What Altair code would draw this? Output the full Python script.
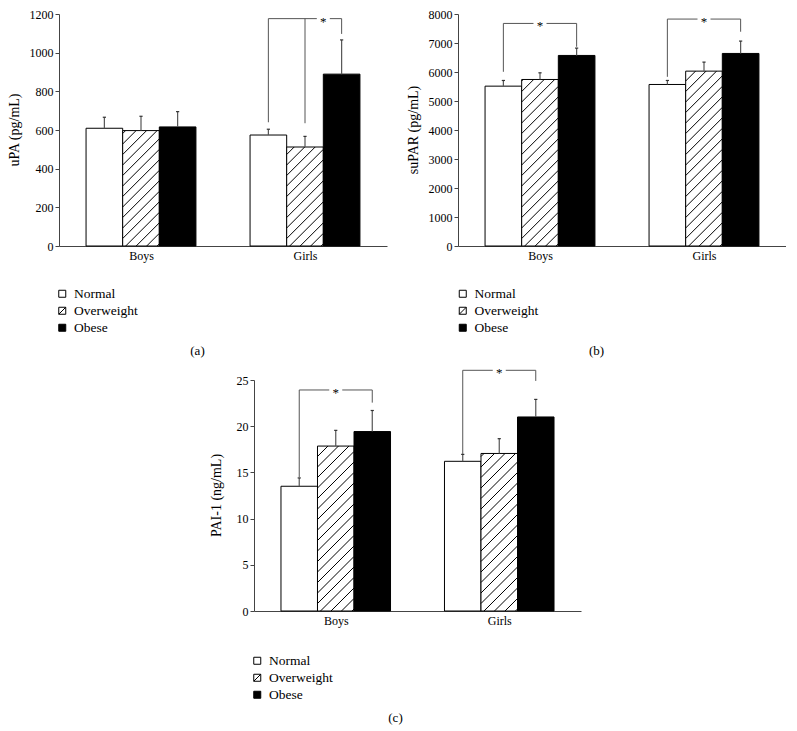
import altair as alt
import numpy as np
import pandas as pd

# ---------------- data ----------------
GROUPS = ["Boys", "Girls"]
CATEGORIES = ["Normal", "Overweight", "Obese"]

# (a) uPA (pg/mL): mean and top of the error bar
UPA_BOYS = [609, 597, 616]
UPA_GIRLS = [574, 512, 889]
UPA_BOYS_ERR = [666, 671, 695]
UPA_GIRLS_ERR = [604, 567, 1066]

# (b) suPAR (pg/mL)
SUPAR_BOYS = [5512, 5742, 6571]
SUPAR_GIRLS = [5570, 6030, 6640]
SUPAR_BOYS_ERR = [5708, 5972, 6824]
SUPAR_GIRLS_ERR = [5708, 6341, 7066]

# (c) PAI-1 (ng/mL)
PAI_BOYS = [13.5, 17.85, 19.42]
PAI_GIRLS = [16.2, 17.05, 21.0]
PAI_BOYS_ERR = [14.4, 19.55, 21.7]
PAI_GIRLS_ERR = [16.95, 18.65, 22.9]

# significance brackets: group, height of bracket, legs (category, lower end), star between
UPA_BRACKETS = [
    {"group": "Girls", "top": 1176,
     "legs": [("Normal", 640), ("Overweight", 635), ("Obese", 1097)],
     "star": ("Overweight", "Obese")},
]
SUPAR_BRACKETS = [
    {"group": "Boys", "top": 7675, "legs": [("Normal", 6007), ("Obese", 6870)],
     "star": ("Normal", "Obese")},
    {"group": "Girls", "top": 7825, "legs": [("Normal", 5834), ("Obese", 7388)],
     "star": ("Normal", "Obese")},
]
PAI_BRACKETS = [
    {"group": "Boys", "top": 23.92, "legs": [("Normal", 14.46), ("Obese", 22.55)],
     "star": ("Normal", "Obese")},
    {"group": "Girls", "top": 26.05, "legs": [("Normal", 16.98), ("Obese", 24.9)],
     "star": ("Normal", "Obese")},
]

# ---------------- styles ----------------
SERIF = "Liberation Serif"
CAT_FILL = ["white", "white", "black"]
SQUARE = "M-1,-1H1V1H-1Z"
CAT_SHAPE = [SQUARE, SQUARE + " M-1,1L1,-1", SQUARE]
GROUP_FRAC = 0.67      # share of each group band covered by its three bars
HATCH_STEP = 10.5      # px between hatch lines
CAP_PX = 1.6
STAR_GAP_PX = 6.5
LINE_GRAY = "#555555"


def panel(means_b, means_g, err_b, err_g, brackets, ymax, ystep, ytitle,
          label, width, height, legend_x, legend_y, title_x):
    px_x = width / 2.0
    px_y = height / ymax
    bw = GROUP_FRAC / 3.0

    def center(gi, cat):
        return gi + 0.5 + (CATEGORIES.index(cat) - 1) * bw

    rows = []
    for gi, (g, means, errs) in enumerate(
            [(GROUPS[0], means_b, err_b), (GROUPS[1], means_g, err_g)]):
        for ci, c in enumerate(CATEGORIES):
            xc = center(gi, c)
            rows.append(dict(group=g, cat=c, value=means[ci], err=errs[ci],
                             x0=xc - bw / 2, x1=xc + bw / 2, xc=xc,
                             cap0=xc - CAP_PX / px_x, cap1=xc + CAP_PX / px_x,
                             fill=CAT_FILL[ci]))
    bars = pd.DataFrame(rows)

    # diagonal hatch lines of the "Overweight" bars
    hatch = []
    for r in rows:
        if r["cat"] != "Overweight":
            continue
        w = (r["x1"] - r["x0"]) * px_x
        h = r["value"] * px_y
        c = np.floor(-h / HATCH_STEP) * HATCH_STEP + 3
        while c < w:
            xs, xe = max(0.0, c), min(w, h + c)
            if xe > xs:
                hatch.append(dict(hx=r["x0"] + xs / px_x, hx2=r["x0"] + xe / px_x,
                                  hy=(xs - c) / px_y, hy2=(xe - c) / px_y))
            c += HATCH_STEP
    hatch = pd.DataFrame(hatch)

    segs, stars = [], []
    for br in brackets:
        gi = GROUPS.index(br["group"])
        xs_ = [center(gi, c) for c, _ in br["legs"]]
        for (c, bottom), x in zip(br["legs"], xs_):
            segs.append(dict(sx=x, sx2=x, sy=bottom, sy2=br["top"]))
        s0, s1 = br["star"]
        sx = (center(gi, s0) + center(gi, s1)) / 2
        gap = STAR_GAP_PX / px_x
        segs.append(dict(sx=min(xs_), sx2=sx - gap, sy=br["top"], sy2=br["top"]))
        segs.append(dict(sx=sx + gap, sx2=max(xs_), sy=br["top"], sy2=br["top"]))
        stars.append(dict(tx=sx, ty=br["top"], t="*"))
    segs = pd.DataFrame(segs)
    stars = pd.DataFrame(stars)

    xscale = alt.Scale(domain=[0, 2], nice=False, zero=False)
    yscale = alt.Scale(domain=[0, ymax], nice=False)
    label_expr = "['%s','%s'][floor(datum.value)]" % (GROUPS[0], GROUPS[1])
    common = dict(labelFont=SERIF, labelFontSize=12, labelColor="black",
                  domainColor="#444444", tickColor="#444444", grid=False, title=None)
    xaxis = alt.Axis(values=[0.5, 1.5], labelExpr=label_expr, ticks=False,
                     labelPadding=4, labelFlush=False, **common)
    yaxis = alt.Axis(values=[float(v) for v in np.arange(0, ymax + ystep / 2, ystep)],
                     format="d", tickSize=4, labelPadding=2, **common)

    def X(f):
        return alt.X(f, type="quantitative", scale=xscale, axis=xaxis)

    def Y(f):
        return alt.Y(f, type="quantitative", scale=yscale, axis=yaxis)

    base = alt.Chart(bars)
    bar_layer = base.mark_bar(stroke="black", strokeWidth=1).encode(
        x=X("x0"), x2="x1", y=Y("value"), y2=alt.datum(0),
        fill=alt.Fill("fill:N", scale=None),
    )
    hatch_layer = alt.Chart(hatch).mark_rule(color="black", strokeWidth=1).encode(
        x=X("hx"), x2="hx2", y=Y("hy"), y2="hy2")
    err_layer = base.mark_rule(color=LINE_GRAY, strokeWidth=1.2).encode(
        x=X("xc"), y=Y("value"), y2="err")
    cap_layer = base.mark_rule(color="#333333", strokeWidth=1.2).encode(
        x=X("cap0"), x2="cap1", y=Y("err"))
    seg_layer = alt.Chart(segs).mark_rule(color=LINE_GRAY, strokeWidth=1).encode(
        x=X("sx"), x2="sx2", y=Y("sy"), y2="sy2")
    star_layer = alt.Chart(stars).mark_text(
        font=SERIF, fontSize=13, color="black", baseline="middle", dy=3).encode(
        x=X("tx"), y=Y("ty"), text="t:N")
    # y-axis title, drawn as rotated text beside the axis
    ytitle_layer = alt.Chart(pd.DataFrame({"t": [ytitle]})).mark_text(
        font=SERIF, fontSize=14, color="black", angle=270, align="center",
        baseline="bottom").encode(
        x=alt.value(title_x), y=alt.value(height / 2), text="t:N")

    leg = dict(title=None, orient="none", legendX=legend_x, legendY=legend_y)
    legend_layer = base.transform_filter("false").mark_point(
        filled=True, stroke="black", strokeWidth=1, size=49, opacity=1).encode(
        x=X("xc"), y=Y("value"),
        fill=alt.Fill("cat:N", scale=alt.Scale(domain=CATEGORIES, range=CAT_FILL),
                      legend=alt.Legend(**leg)),
        shape=alt.Shape("cat:N", scale=alt.Scale(domain=CATEGORIES, range=CAT_SHAPE),
                        legend=alt.Legend(**leg)),
    )

    return alt.layer(bar_layer, hatch_layer, err_layer, cap_layer, seg_layer,
                     star_layer, ytitle_layer, legend_layer).properties(
        width=width, height=height,
        title=alt.TitleParams(label, orient="bottom", anchor="middle", frame="bounds",
                              font=SERIF, fontSize=13, fontWeight="normal",
                              color="black", offset=10),
    )


pa = panel(UPA_BOYS, UPA_GIRLS, UPA_BOYS_ERR, UPA_GIRLS_ERR, UPA_BRACKETS,
           1200, 200, "uPA (pg/mL)", "(a)", 328, 232, -3.5, 273, -37)
pb = panel(SUPAR_BOYS, SUPAR_GIRLS, SUPAR_BOYS_ERR, SUPAR_GIRLS_ERR, SUPAR_BRACKETS,
           8000, 1000, "suPAR (pg/mL)", "(b)", 328, 232, -2, 273, -37)
pc = panel(PAI_BOYS, PAI_GIRLS, PAI_BOYS_ERR, PAI_GIRLS_ERR, PAI_BRACKETS,
           25, 5, "PAI-1 (ng/mL)", "(c)", 327, 231, -3.5, 274, -30)

spacer = alt.Chart(pd.DataFrame({"v": [0]})).transform_filter("false").mark_point().encode(
    x=alt.X("v:Q", axis=None), y=alt.Y("v:Q", axis=None)
).properties(width=151, height=231)

RES = dict(x="independent", y="independent", fill="independent", shape="independent")
row1 = alt.hconcat(pa, pb, spacing=20).resolve_scale(**RES).resolve_legend(
    fill="independent", shape="independent")
row2 = alt.hconcat(spacer, pc, spacing=0).resolve_scale(**RES).resolve_legend(
    fill="independent", shape="independent")

chart = alt.vconcat(row1, row2, spacing=9).resolve_scale(**RES).resolve_legend(
    fill="independent", shape="independent"
).properties(
    padding={"left": 0, "top": 0, "right": 0, "bottom": 0}
).configure_view(stroke=None).configure_legend(
    labelFont=SERIF, labelFontSize=13.5, labelColor="black", symbolSize=49,
    symbolStrokeColor="black", symbolStrokeWidth=1, rowPadding=2, labelOffset=5,
    padding=0,
)

chart.save("out.html", embed_options={"renderer": "svg", "actions": False})
